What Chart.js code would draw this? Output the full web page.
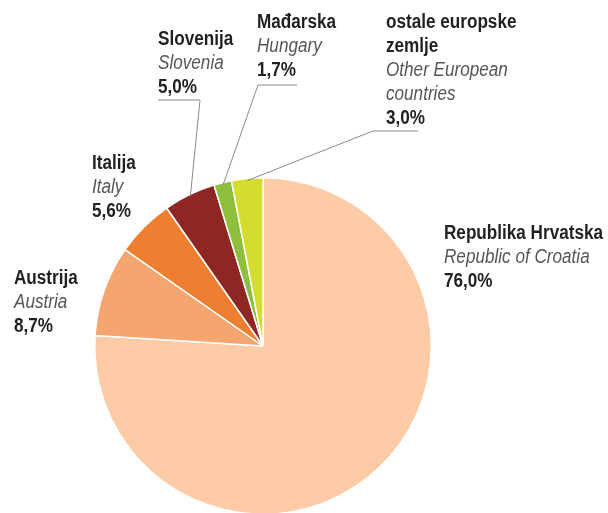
<!DOCTYPE html>
<html lang="hr">
<head>
  <meta charset="UTF-8">
  <title>Struktura po zemljama</title>
  <script src="https://cdn.jsdelivr.net/npm/chart.js"></script>
  <style>
    html, body {
      margin: 0;
      padding: 0;
      background: #ffffff;
      overflow: hidden;
    }

    .chart-box {
      position: relative;
      width: 608px;
      height: 530px;
    }
  </style>
</head>
<body>

<div class="chart-box">
  <canvas id="pieChart"></canvas>
</div>

<script>
  // data
  const namesHr = ['Republika Hrvatska', 'Austrija', 'Italija', 'Slovenija', 'Mađarska', 'ostale europske\nzemlje'];
  const namesEn = ['Republic of Croatia', 'Austria', 'Italy', 'Slovenia', 'Hungary', 'Other European\ncountries'];
  const shares = [76.0, 8.7, 5.6, 5.0, 1.7, 3.0];
  const sliceColors = ['#fdcba6', '#f5a56e', '#ee7f30', '#8e2723', '#8dbe3c', '#d4dc2e'];

  // where each label block starts (centre of first line) and its leader elbow, if any
  const labelSpots = [
    { x: 444, y: 232 },
    { x: 14,  y: 277 },
    { x: 92,  y: 162 },
    { x: 158, y: 38,  line: [158, 200, 100] },
    { x: 257, y: 21,  line: [297, 258, 85] },
    { x: 386, y: 21,  line: [418, 373, 131] }
  ];

  const fontFamily = '"Liberation Sans", Arial, sans-serif';
  const fontSize = 19.5;
  const lineGap = 24;

  const labelPlugin = {
    id: 'sliceLabels',
    afterDraw(chart) {
      const ctx = chart.ctx;
      const arcs = chart.getDatasetMeta(0).data;
      ctx.save();
      ctx.textAlign = 'left';
      ctx.textBaseline = 'alphabetic';

      // the original uses a condensed face, so squeeze the text horizontally
      ctx.font = 'bold ' + fontSize + 'px ' + fontFamily;
      const squeeze = 159 / ctx.measureText('Republika Hrvatska').width;

      labelSpots.forEach((spot, i) => {
        const lines = [];
        namesHr[i].split('\n').forEach(t => lines.push({ t, style: 'bold' }));
        namesEn[i].split('\n').forEach(t => lines.push({ t, style: 'italic' }));
        lines.push({ t: shares[i].toFixed(1).replace('.', ',') + '%', style: 'bold' });

        lines.forEach((ln, k) => {
          ctx.font = (ln.style === 'bold' ? 'bold ' : 'italic ') + fontSize + 'px ' + fontFamily;
          ctx.fillStyle = ln.style === 'bold' ? '#231f20' : '#555658';
          ctx.save();
          ctx.translate(spot.x, spot.y + k * lineGap + 7);
          ctx.scale(squeeze, 1);
          ctx.fillText(ln.t, 0, 0);
          ctx.restore();
        });

        if (spot.line) {
          const arc = arcs[i];
          const mid = (arc.startAngle + arc.endAngle) / 2;
          const ex = arc.x + Math.cos(mid) * (arc.outerRadius - 2);
          const ey = arc.y + Math.sin(mid) * (arc.outerRadius - 2);
          ctx.strokeStyle = '#8a8a8a';
          ctx.lineWidth = 1;
          ctx.beginPath();
          ctx.moveTo(spot.line[0], spot.line[2]);
          ctx.lineTo(spot.line[1], spot.line[2]);
          ctx.lineTo(ex, ey);
          ctx.stroke();
        }
      });
      ctx.restore();
    }
  };

  const ctx = document.getElementById('pieChart').getContext('2d');
  new Chart(ctx, {
    type: 'pie',
    data: {
      labels: namesHr,
      datasets: [{
        data: shares,
        backgroundColor: sliceColors,
        borderColor: '#ffffff',
        borderWidth: 1.5,
        hoverOffset: 0
      }]
    },
    options: {
      responsive: true,
      maintainAspectRatio: false,
      animation: false,
      layout: {
        padding: { left: 94, right: 176, top: 177, bottom: 15 }
      },
      plugins: {
        legend: { display: false },
        tooltip: { enabled: false }
      }
    },
    plugins: [labelPlugin]
  });
</script>

</body>
</html>
